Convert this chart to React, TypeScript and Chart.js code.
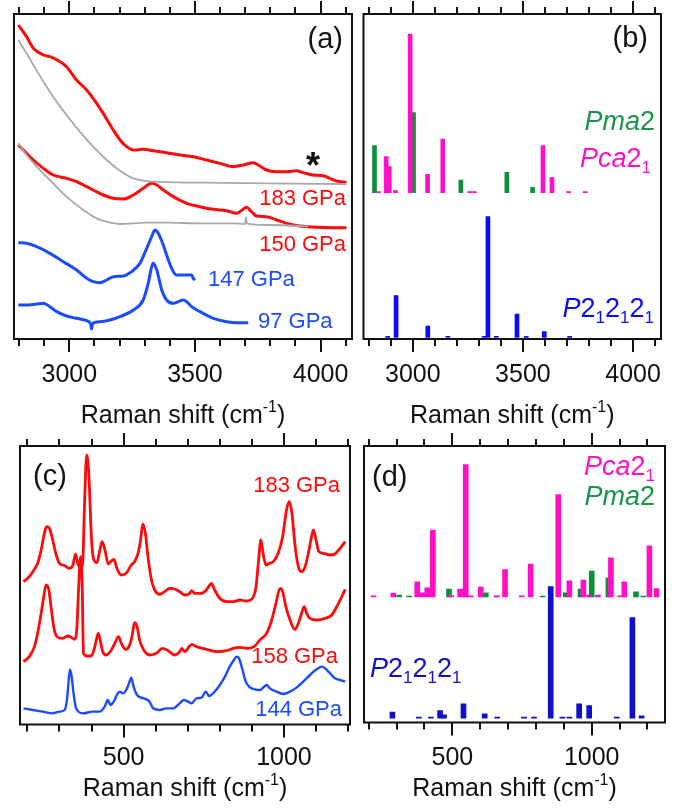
import React, { useEffect, useRef } from 'react';
import { Chart, registerables } from 'chart.js';

Chart.register(...registerables);

const W = 674;
const H = 810;
const FONT = '"Liberation Sans", Arial, Helvetica, sans-serif';

const RED = '#ff0a0a';
const BLUE_LINE = '#1a4cff';
const GREY = '#a8a8a8';
const GREEN = '#0b8f3a';
const GREEN_TXT = '#17964a';
const MAGENTA = '#ff10c8';
const BLUE_BAR_B = '#0a0aff';
const BLUE_BAR_D = '#1010cc';

// ---------- (a) high-frequency spectra: [Raman shift cm-1, intensity] ----------
const specA183: number[][] = [
  [2797, 942], [2830, 907], [2857, 872], [2897, 852], [2923, 847], [2963, 832], [2989, 817],
  [3029, 777], [3069, 747], [3109, 707], [3135, 677], [3175, 627], [3202, 597], [3228, 577],
  [3255, 567], [3294, 569], [3334, 565], [3387, 559], [3440, 552], [3493, 547], [3546, 537],
  [3599, 527], [3652, 517], [3692, 522], [3732, 529], [3752, 522], [3785, 507], [3825, 502],
  [3865, 502], [3904, 505], [3931, 499], [3971, 492], [4010, 490], [4037, 482], [4063, 474],
  [4103, 470],
];
const bgA183: number[][] = [
  [2797, 897], [2830, 857], [2857, 822], [2897, 772], [2936, 727], [2989, 672], [3042, 622],
  [3095, 577], [3149, 537], [3188, 512], [3228, 492], [3255, 482], [3294, 475], [3334, 472],
  [3520, 469], [3785, 467], [4103, 465],
];
const specA150: number[][] = [
  [2797, 582], [2830, 557], [2857, 537], [2897, 512], [2936, 492], [2989, 482], [3029, 472],
  [3056, 462], [3095, 447], [3135, 432], [3175, 422], [3215, 420], [3255, 432], [3294, 452],
  [3328, 467], [3348, 462], [3374, 447], [3414, 427], [3467, 407], [3520, 397], [3573, 389],
  [3626, 385], [3666, 377], [3692, 389], [3705, 395], [3725, 382], [3745, 369], [3785, 367],
  [3825, 357], [3865, 347], [3918, 339], [3984, 335], [4050, 334], [4103, 334],
];
const bgA150: number[][] = [
  [2797, 587], [2830, 552], [2870, 517], [2923, 477], [2989, 427], [3056, 387], [3109, 362],
  [3149, 352], [3202, 345], [3255, 347], [3308, 349], [3387, 349], [3520, 347], [3652, 347],
  [3699, 345], [3703, 365], [3707, 347], [3785, 342], [3918, 339], [3951, 337],
];
const specA147: number[][] = [
  [2797, 289], [2830, 287], [2870, 277], [2923, 257], [2976, 232], [3029, 207], [3069, 182],
  [3095, 172], [3122, 169], [3149, 177], [3175, 187], [3215, 189], [3248, 202], [3281, 227],
  [3308, 272], [3328, 307], [3341, 327], [3354, 317], [3374, 282], [3394, 237], [3414, 202],
  [3427, 192], [3467, 192], [3487, 192], [3493, 182], [3500, 177],
];
const specA97: number[][] = [
  [2797, 102], [2830, 102], [2870, 105], [2897, 107], [2923, 97], [2950, 82], [2989, 69],
  [3029, 62], [3069, 55], [3085, 45], [3089, 30], [3093, 47], [3122, 52], [3162, 57],
  [3202, 67], [3255, 87], [3294, 117], [3314, 167], [3328, 217], [3334, 227], [3348, 207],
  [3368, 147], [3387, 117], [3414, 107], [3434, 112], [3454, 117], [3467, 112], [3487, 97],
  [3520, 82], [3573, 62], [3626, 52], [3666, 49], [3712, 49],
];

// ---------- (b) calculated high-frequency modes: [frequency, intensity] ----------
const baseB1 = 439;
const baseB2 = 5;
const pma2B: number[][] = [[2826, 141], [3003, 240], [3218, 38], [3427, 61], [3544, 16]];
const pca21B: number[][] = [
  [2844, 3], [2879, 108], [2893, 78], [2921, 6], [2988, 476], [3067, 55], [3136, 161],
  [3258, 3], [3280, 3], [3591, 141], [3632, 45], [3708, 3], [3783, 3],
];
const p212121B: number[][] = [
  [2886, 3], [2924, 125], [3068, 34], [3159, 3], [3324, 3], [3341, 362], [3379, 3],
  [3473, 70], [3515, 3], [3597, 17], [3712, 3],
];

// ---------- (c) low-frequency spectra ----------
const specC183: number[][] = [
  [188, 430], [201, 440], [217, 460], [232, 485], [243, 525], [253, 575], [260, 595], [269, 590],
  [279, 555], [290, 510], [300, 485], [316, 478], [331, 470], [342, 480], [350, 513], [357, 485],
  [366, 470], [373, 495], [378, 655], [385, 810], [392, 745], [399, 575], [406, 500], [417, 487],
  [425, 520], [433, 550], [442, 525], [452, 483], [463, 493], [470, 497], [479, 470], [493, 450],
  [508, 455], [524, 480], [534, 490], [545, 515], [553, 555], [560, 603], [568, 575], [576, 505],
  [587, 435], [597, 405], [613, 392], [628, 400], [644, 410], [659, 408], [675, 400], [691, 390],
  [706, 395], [712, 403], [722, 395], [743, 395], [758, 405], [769, 420], [774, 425], [784, 405],
  [800, 380], [821, 370], [842, 370], [863, 375], [883, 372], [899, 377], [913, 415], [921, 495],
  [928, 555], [935, 515], [944, 480], [954, 485], [967, 490], [982, 515], [996, 565], [1008, 645],
  [1017, 670], [1025, 635], [1035, 535], [1045, 475], [1055, 460], [1066, 475], [1076, 515],
  [1084, 555], [1092, 585], [1100, 555], [1109, 520], [1123, 515], [1144, 510], [1159, 513],
  [1175, 530], [1191, 550],
];
const specC158: number[][] = [
  [188, 190], [206, 205], [222, 235], [232, 275], [243, 335], [251, 385], [258, 420], [267, 405],
  [275, 345], [284, 285], [295, 263], [310, 260], [326, 267], [337, 263], [347, 257], [354, 285],
  [360, 415], [366, 505], [371, 415], [375, 215], [385, 207], [399, 207], [409, 230], [417, 263],
  [421, 275], [427, 255], [435, 220], [446, 210], [462, 225], [475, 250], [484, 265], [493, 245],
  [506, 227], [519, 240], [527, 270], [534, 307], [542, 295], [550, 255], [563, 225], [581, 210],
  [602, 215], [621, 230], [639, 223], [659, 210], [675, 220], [681, 230], [691, 220], [704, 235],
  [713, 242], [727, 235], [758, 227], [790, 220], [821, 223], [842, 230], [863, 233], [889, 230],
  [909, 237], [925, 255], [946, 275], [962, 315], [975, 365], [988, 410], [996, 400], [1006, 355],
  [1019, 315], [1034, 287], [1045, 305], [1055, 335], [1063, 355], [1071, 335], [1081, 320],
  [1102, 315], [1128, 320], [1149, 330], [1170, 365], [1191, 407],
];
const specC144: number[][] = [
  [188, 50], [217, 45], [248, 40], [279, 35], [300, 40], [316, 45], [324, 80], [329, 135],
  [333, 167], [338, 145], [344, 95], [352, 50], [373, 35], [404, 40], [425, 40], [441, 55],
  [451, 75], [459, 60], [472, 75], [479, 90], [488, 100], [498, 95], [508, 105], [517, 125],
  [524, 142], [531, 115], [542, 90], [555, 82], [571, 77], [581, 70], [592, 50], [613, 45],
  [633, 50], [654, 50], [675, 65], [688, 75], [701, 70], [712, 65], [727, 80], [743, 82],
  [756, 100], [767, 87], [784, 100], [800, 120], [816, 145], [831, 175], [844, 195], [852, 205],
  [860, 200], [871, 165], [881, 130], [894, 113], [909, 107], [925, 105], [938, 115], [946, 120],
  [956, 110], [977, 100], [998, 93], [1019, 100], [1040, 113], [1060, 130], [1081, 150],
  [1102, 167], [1118, 175], [1128, 170], [1144, 155], [1159, 140], [1175, 135], [1191, 130],
];

// ---------- (d) calculated low-frequency modes ----------
const baseD1 = 377;
const baseD2 = 13;
const pca21D: number[][] = [
  [217, 3], [288, 11], [374, 45], [394, 12], [410, 27], [430, 200], [496, 4], [528, 23],
  [548, 397], [566, 3], [602, 29], [659, 3], [689, 82], [749, 3], [781, 98], [880, 307],
  [920, 48], [970, 50], [991, 5], [1022, 5], [1069, 117], [1102, 3], [1117, 45], [1207, 153],
  [1233, 25],
];
const pma2D: number[][] = [
  [309, 5], [345, 2], [488, 23], [620, 12], [659, 2], [824, 2], [907, 12], [960, 23],
  [1000, 77], [1060, 57], [1159, 15], [1185, 2],
];
const p212121D: number[][] = [
  [285, 18], [380, 3], [423, 3], [456, 23], [470, 10], [540, 43], [616, 13], [661, 3],
  [757, 3], [793, 3], [853, 395], [895, 3], [920, 3], [955, 43], [991, 38], [1090, 3],
  [1146, 302], [1179, 7],
];

type Run = { t: string; it?: boolean; bold?: boolean; sub?: boolean; sup?: boolean };
type Label = { runs: Run[]; x: number; y: number; size: number; color: string; align: 'left' | 'right' | 'center' };

type Panel = {
  frame: { l: number; t: number; r: number; b: number };
  xMin: number;
  xMax: number;
  yMin: number;
  yMax: number;
  tickBaseline: number;
  titleBaseline: number;
  datasets: any[];
  labels: Label[];
};

const txt = (t: string): Run[] => [{ t }];
const PMA2: Run[] = [{ t: 'Pma', it: true }, { t: '2' }];
const PCA21: Run[] = [{ t: 'Pca', it: true }, { t: '2' }, { t: '1', sub: true }];
const P212121: Run[] = [
  { t: 'P', it: true }, { t: '2' }, { t: '1', sub: true }, { t: '2' }, { t: '1', sub: true },
  { t: '2' }, { t: '1', sub: true },
];

const line = (pts: number[][], color: string, width: number) => ({
  type: 'line',
  data: pts.map(([x, y]) => ({ x, y })),
  borderColor: color,
  borderWidth: width,
  pointRadius: 0,
  fill: false,
  cubicInterpolationMode: 'monotone',
});

const bars = (pts: number[][], base: number, color: string, thickness: number) => ({
  type: 'bar',
  data: pts.map(([x, h]) => ({ x, y: [base, base + h] })),
  backgroundColor: color,
  borderWidth: 0,
  barThickness: thickness,
  grouped: false,
});

function drawRuns(ctx: CanvasRenderingContext2D, lab: Label) {
  const small = Math.round(lab.size * 0.64);
  const fontOf = (r: Run) =>
    `${r.it ? 'italic ' : ''}${r.bold ? 'bold ' : ''}${r.sub || r.sup ? small : lab.size}px ${FONT}`;
  const widths = lab.runs.map((r) => {
    ctx.font = fontOf(r);
    return ctx.measureText(r.t).width;
  });
  const total = widths.reduce((a, b) => a + b, 0);
  let x = lab.align === 'right' ? lab.x - total : lab.align === 'center' ? lab.x - total / 2 : lab.x;
  ctx.fillStyle = lab.color;
  ctx.textAlign = 'left';
  ctx.textBaseline = 'alphabetic';
  lab.runs.forEach((r, i) => {
    ctx.font = fontOf(r);
    const dy = r.sub ? lab.size * 0.24 : r.sup ? -lab.size * 0.45 : 0;
    ctx.fillText(r.t, x, lab.y + dy);
    x += widths[i];
  });
}

const framePlugin = (p: Panel) => ({
  id: 'panelFrame',
  afterDraw(chart: any) {
    const ctx: CanvasRenderingContext2D = chart.ctx;
    const xs = chart.scales.x;
    const { left, top, right, bottom } = chart.chartArea;
    ctx.save();
    ctx.strokeStyle = '#111111';
    ctx.lineWidth = 2;
    ctx.strokeRect(left, top, right - left, bottom - top);
    ctx.beginPath();
    for (let v = Math.ceil(xs.min / 100) * 100; v <= xs.max; v += 100) {
      const px = Math.round(xs.getPixelForValue(v));
      const len = v % 500 === 0 ? 13 : 7;
      ctx.moveTo(px, bottom);
      ctx.lineTo(px, bottom + len);
      ctx.moveTo(px, top);
      ctx.lineTo(px, top - len);
    }
    ctx.stroke();
    ctx.fillStyle = '#111111';
    ctx.font = `25px ${FONT}`;
    ctx.textAlign = 'center';
    ctx.textBaseline = 'alphabetic';
    for (let v = Math.ceil(xs.min / 500) * 500; v <= xs.max; v += 500) {
      ctx.fillText(String(v), xs.getPixelForValue(v), p.tickBaseline);
    }
    drawRuns(ctx, {
      runs: [{ t: 'Raman shift (cm' }, { t: '-1', sup: true }, { t: ')' }],
      x: (left + right) / 2,
      y: p.titleBaseline,
      size: 25,
      color: '#111111',
      align: 'center',
    });
    p.labels.forEach((lab) => drawRuns(ctx, lab));
    ctx.restore();
  },
});

const panels: Panel[] = [
  {
    frame: { l: 14, t: 14, r: 352, b: 339 },
    xMin: 2780, xMax: 4125, yMin: 0, yMax: 975,
    tickBaseline: 382, titleBaseline: 423,
    datasets: [
      line(bgA183, GREY, 1.8),
      line(bgA150, GREY, 1.8),
      line(specA183, RED, 3),
      line(specA150, RED, 3),
      line(specA147, BLUE_LINE, 3),
      line(specA97, BLUE_LINE, 3),
    ],
    labels: [
      { runs: txt('(a)'), x: 343, y: 48, size: 29, color: '#111111', align: 'right' },
      { runs: [{ t: '*', bold: true }], x: 313, y: 178, size: 36, color: '#111111', align: 'center' },
      { runs: txt('183 GPa'), x: 346, y: 205, size: 22, color: RED, align: 'right' },
      { runs: txt('150 GPa'), x: 346, y: 251, size: 22, color: RED, align: 'right' },
      { runs: txt('147 GPa'), x: 208, y: 286, size: 22, color: BLUE_LINE, align: 'left' },
      { runs: txt('97 GPa'), x: 258, y: 328, size: 22, color: BLUE_LINE, align: 'left' },
    ],
  },
  {
    frame: { l: 363.5, t: 14, r: 661, b: 339 },
    xMin: 2776, xMax: 4127, yMin: 0, yMax: 975,
    tickBaseline: 382, titleBaseline: 423,
    datasets: [
      bars(pca21B, baseB1, MAGENTA, 4),
      bars(pma2B, baseB1, GREEN, 4),
      bars(p212121B, baseB2, BLUE_BAR_B, 4),
    ],
    labels: [
      { runs: txt('(b)'), x: 648, y: 47, size: 29, color: '#111111', align: 'right' },
      { runs: PMA2, x: 655, y: 130, size: 27, color: GREEN_TXT, align: 'right' },
      { runs: PCA21, x: 580, y: 167, size: 27, color: MAGENTA, align: 'left' },
      { runs: P212121, x: 654, y: 317, size: 27, color: BLUE_BAR_B, align: 'right' },
    ],
  },
  {
    frame: { l: 20, t: 446, r: 350, b: 724.5 },
    xMin: 177, xMax: 1206, yMin: 1.5, yMax: 837,
    tickBaseline: 765, titleBaseline: 796,
    datasets: [
      line(specC183, RED, 2.8),
      line(specC158, RED, 2.8),
      line(specC144, BLUE_LINE, 2.4),
    ],
    labels: [
      { runs: txt('(c)'), x: 33, y: 485, size: 29, color: '#111111', align: 'left' },
      { runs: txt('183 GPa'), x: 340, y: 492, size: 22, color: RED, align: 'right' },
      { runs: txt('158 GPa'), x: 338, y: 663, size: 22, color: RED, align: 'right' },
      { runs: txt('144 GPa'), x: 342, y: 716, size: 22, color: BLUE_LINE, align: 'right' },
    ],
  },
  {
    frame: { l: 364, t: 446, r: 665, b: 722.5 },
    xMin: 183, xMax: 1263, yMin: 0, yMax: 829.5,
    tickBaseline: 765, titleBaseline: 796,
    datasets: [
      bars(pca21D, baseD1, MAGENTA, 5),
      bars(pma2D, baseD1, GREEN, 5),
      bars(p212121D, baseD2, BLUE_BAR_D, 5),
    ],
    labels: [
      { runs: txt('(d)'), x: 372, y: 486, size: 29, color: '#111111', align: 'left' },
      { runs: PCA21, x: 655, y: 475, size: 27, color: MAGENTA, align: 'right' },
      { runs: PMA2, x: 655, y: 505, size: 27, color: GREEN_TXT, align: 'right' },
      { runs: P212121, x: 370, y: 677, size: 27, color: BLUE_BAR_D, align: 'left' },
    ],
  },
];

function PanelChart({ p }: { p: Panel }) {
  const ref = useRef<HTMLCanvasElement>(null);
  useEffect(() => {
    if (!ref.current) return;
    const chart = new Chart(ref.current, {
      type: 'bar',
      data: { datasets: p.datasets as any },
      options: {
        responsive: false,
        animation: false,
        devicePixelRatio: 1,
        events: [],
        layout: {
          padding: { left: p.frame.l, top: p.frame.t, right: W - p.frame.r, bottom: H - p.frame.b },
        },
        plugins: { legend: { display: false }, tooltip: { enabled: false } },
        scales: {
          x: { type: 'linear', display: false, min: p.xMin, max: p.xMax, offset: false },
          y: { type: 'linear', display: false, min: p.yMin, max: p.yMax },
        },
      } as any,
      plugins: [framePlugin(p)],
    });
    return () => chart.destroy();
  }, [p]);
  return (
    <canvas
      ref={ref}
      width={W}
      height={H}
      style={{ position: 'absolute', left: 0, top: 0, width: W, height: H }}
    />
  );
}

export default function App() {
  return (
    <div style={{ position: 'absolute', left: 0, top: 0, width: W, height: H, background: '#ffffff' }}>
      {panels.map((p, i) => (
        <PanelChart key={i} p={p} />
      ))}
    </div>
  );
}
